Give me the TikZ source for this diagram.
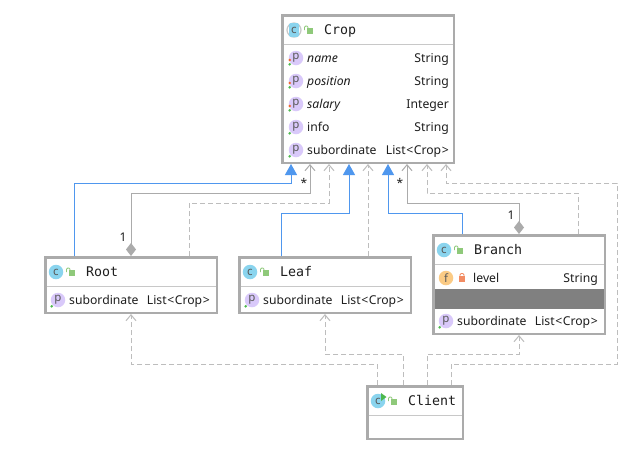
\documentclass[tikz,border=0pt]{standalone}
\usepackage{fontspec}
\setmainfont{Noto Sans}
\newfontfamily\titlefont{DejaVu Sans Mono}
\usetikzlibrary{arrows.meta,positioning}
\definecolor{boxgray}{HTML}{ABABAB}
\definecolor{sepgray}{HTML}{C8C8C8}
\definecolor{dashgray}{HTML}{BDBDBD}
\definecolor{linegray}{HTML}{ABABAB}
\definecolor{extblue}{HTML}{4F97EE}
\definecolor{iconblue}{HTML}{8AD4EE}
\definecolor{iconpurple}{HTML}{D9C9FA}
\definecolor{iconorange}{HTML}{FBCB85}
\definecolor{lockgreen}{HTML}{8FC97A}
\definecolor{lockred}{HTML}{F28C63}
\definecolor{dotgreen}{HTML}{4DB84D}
\definecolor{dotred}{HTML}{F0662E}
\definecolor{inktext}{HTML}{1E1E1E}
\tikzset{
    umlbox/.style={
        draw=boxgray,
        fill=white,
        line width=2.5pt,
        inner sep=0pt,
    },
    sepline/.style={
        draw=sepgray,
        line width=1pt,
    },
    icon/.style={
        circle,
        inner sep=0pt,
        minimum size=14.5pt,
        text=black!65,
        font=\fontsize{11.5}{11.5}\selectfont,
    },
    titletext/.style={
        anchor=base west,
        inner sep=0pt,
        text=inktext,
        font=\titlefont\fontsize{13.3}{15}\selectfont,
    },
    rowtext/.style={
        anchor=base west,
        inner sep=0pt,
        text=inktext,
        font=\fontsize{12.2}{15}\selectfont,
    },
    typetext/.style={
        rowtext,
        anchor=base east,
    },
    endlabel/.style={
        inner sep=0pt,
        text=inktext,
        font=\fontsize{12}{12}\selectfont,
    },
    extends/.style={
        draw=extblue,
        line width=1pt,
        -{Triangle[width=12pt,length=11pt,fill=extblue]},
    },
    assoc/.style={
        draw=linegray,
        line width=1pt,
        {Diamond[width=10pt,length=13pt,fill=linegray]}-{Straight Barb[length=6pt,width=10pt]},
    },
    depend/.style={
        draw=dashgray,
        line width=1pt,
        dash pattern=on 5pt off 3pt,
        -{Straight Barb[length=6pt,width=10pt,line width=1pt]},
    },
}
\newcommand{\listcrop}{List\kern.6pt<\kern.6pt Crop\kern.6pt>}
% class header: icon, lock and name
\newcommand{\classhead}[5]{
    \node[icon,fill=iconblue] (#1-icon) at (#2,#3) {c};
    \lockopen{#1}{#2+15}{#3}
    \node[titletext] (#1-title) at (#2+30,#3+4.5) {#4};
}
\newcommand{\lockopen}[3]{
    \fill[lockgreen] (#2-2,#3-2) rectangle (#2+4,#3+4);
    \draw[lockgreen,line width=.8pt,rounded corners=1.2pt] (#2-4.5,#3) -- (#2-4.5,#3-4) -- (#2-1,#3-4) -- (#2-1,#3-2);
}
\newcommand{\lockshut}[3]{
    \fill[lockred] (#2-3,#3-2) rectangle (#2+3,#3+4);
    \draw[lockred,line width=.8pt,rounded corners=1.2pt] (#2-2,#3-2) -- (#2-2,#3-4.5) -- (#2+2,#3-4.5) -- (#2+2,#3-2);
}
% property row: icon, green dot, name, type
\newcommand{\proprow}[7]{
    \node[icon,fill=iconpurple] (#1-icon) at (#2,#3) {p};
    \fill[dotgreen] (#2-6.3,#3+6.3) circle (1.4pt);
    \node[rowtext] (#1-name) at (#2+11,#3+4.5) {#4};
    \node[typetext] (#1-type) at (#6,#3+4.5) {#5};
    #7
}
\begin{document}
\begin{tikzpicture}[x=1pt,y=-1pt]
    \useasboundingbox[fill=white] (0,0) rectangle (643,464);
    % classes
    \node[umlbox,minimum width=171.5pt,minimum height=147.5pt] (Crop) at (368,89) {};
    \node[umlbox,minimum width=171.5pt,minimum height=55.5pt] (Root) at (131,285) {};
    \node[umlbox,minimum width=171.5pt,minimum height=55.5pt] (Leaf) at (325,285) {};
    \node[umlbox,minimum width=171.5pt,minimum height=98.5pt] (Branch) at (519,284.5) {};
    \node[umlbox,minimum width=95.5pt,minimum height=52.5pt] (Client) at (415,412.5) {};
    % connectors
    \draw[extends] ([xshift=-57pt]Root.north) -- ++(0,-73) -| ([xshift=-77pt]Crop.south);
    \draw[assoc] (Root.north) -- ++(0,-63) -| ([xshift=-58pt]Crop.south);
    \draw[depend] ([xshift=58pt]Root.north) -- ++(0,-53) -| ([xshift=-39pt]Crop.south);
    \draw[extends] ([xshift=-44pt]Leaf.north) -- ++(0,-43) -| ([xshift=-19pt]Crop.south);
    \draw[depend] ([xshift=43pt]Leaf.north) -- (Crop.south);
    \draw[extends] ([xshift=-57pt]Branch.north) -- ++(0,-21) -| ([xshift=20pt]Crop.south);
    \draw[assoc] (Branch.north) -- ++(0,-31) -| ([xshift=39pt]Crop.south);
    \draw[depend] ([xshift=59pt]Branch.north) -- ++(0,-41) -| ([xshift=59pt]Crop.south);
    \draw[depend] ([xshift=36pt]Client.north) -- ++(0,-21) -- ++(166,0) -- ++(0,-181) -| ([xshift=78pt]Crop.south);
    \draw[depend] ([xshift=-38pt]Client.north) -- ++(0,-21) -| (Root.south);
    \draw[depend] ([xshift=-12pt]Client.north) -- ++(0,-31) -| (Leaf.south);
    \draw[depend] ([xshift=12pt]Client.north) -- ++(0,-31) -| (Branch.south);
    \node[endlabel] (root-one) at (123,237) {1};
    \node[endlabel] (root-many) at (304,183) {*};
    \node[endlabel] (branch-one) at (511,215) {1};
    \node[endlabel] (branch-many) at (400,183) {*};
    % Crop
    \node[icon,draw=sepgray,line width=1.2pt,minimum size=14pt] (Crop-ring) at (294,30) {};
    \fill[iconblue,rounded corners=2pt] (289,23) rectangle (299,37);
    \node[inner sep=0pt,text=black!65,font=\fontsize{11.5}{11.5}\selectfont] (Crop-icon) at (294,30) {c};
    \lockopen{Crop}{309}{30}
    \node[titletext] (Crop-title) at (324,34.5) {Crop};
    \draw[sepline] (283.5,44) -- (452.5,44);
    \foreach \rowy/\rowname/\rowtype in {58/name/String,81/position/String,104/salary/Integer}{
        \proprow{Crop-\rowname}{296}{\rowy}{\textit{\rowname}}{\rowtype}{449}{\fill[dotred] (289.7,\rowy+2) circle (1.4pt);}
    }
    \proprow{Crop-info}{296}{127}{info}{String}{449}{}
    \proprow{Crop-sub}{296}{150}{subordinate}{\listcrop}{449}{}
    % Root
    \classhead{Root}{56}{272}{Root}{}
    \draw[sepline] (46.5,286) -- (215.5,286);
    \proprow{Root-sub}{58}{300}{subordinate}{\listcrop}{210}{}
    % Leaf
    \classhead{Leaf}{250}{272}{Leaf}{}
    \draw[sepline] (240.5,286) -- (409.5,286);
    \proprow{Leaf-sub}{252}{300}{subordinate}{\listcrop}{404}{}
    % Branch
    \classhead{Branch}{444}{250}{Branch}{}
    \draw[sepline] (434.5,264) -- (603.5,264);
    \node[icon,fill=iconorange] (Branch-level-icon) at (446,278) {f};
    \lockshut{Branch}{462}{278}
    \node[rowtext] (Branch-level-name) at (473,282.5) {level};
    \node[typetext] (Branch-level-type) at (598,282.5) {String};
    \fill[black!50] (434.5,289) rectangle (603.5,309);
    \proprow{Branch-sub}{446}{321}{subordinate}{\listcrop}{598}{}
    % Client
    \classhead{Client}{378}{401}{Client}{}
    \fill[dotgreen] (381,393) -- (386.5,397) -- (381,401) -- cycle;
    \draw[sepline] (368.5,415) -- (461.5,415);
\end{tikzpicture}
\end{document}
